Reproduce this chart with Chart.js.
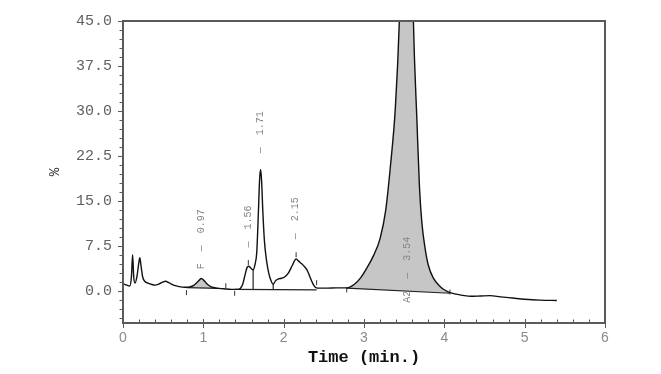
<!DOCTYPE html>
<html>
<head>
<meta charset="utf-8">
<script src="https://cdn.jsdelivr.net/npm/chart.js@4.4.1/dist/chart.umd.min.js"></script>
<style>
  html, body { margin: 0; padding: 0; background: #fff; }
  #wrap { width: 661px; height: 374px; }
</style>
</head>
<body>
<div id="wrap"><canvas id="myChart"></canvas></div>
<script>
// detector trace (time in min, signal in %)
var times = [0.000, 0.040, 0.085, 0.105, 0.120, 0.133, 0.150, 0.175, 0.195, 0.210,
             0.225, 0.245, 0.270, 0.310, 0.360, 0.400, 0.450, 0.500, 0.530, 0.570,
             0.630, 0.700, 0.770, 0.830, 0.880, 0.930, 0.975, 1.010, 1.050, 1.100,
             1.160, 1.250, 1.350, 1.430, 1.460, 1.490, 1.520, 1.545, 1.565, 1.590,
             1.620, 1.645, 1.665, 1.685, 1.700, 1.712, 1.725, 1.740, 1.760, 1.785,
             1.815, 1.845, 1.870, 1.900, 1.935, 1.975, 2.010, 2.060, 2.110, 2.155,
             2.190, 2.225, 2.260, 2.290, 2.325, 2.360, 2.400, 2.450, 2.550, 2.650,
             2.720, 2.790, 2.880, 2.960, 3.040, 3.120, 3.200, 3.270, 3.330, 3.390,
             3.440, 3.490, 3.540, 3.580, 3.615, 3.660, 3.690, 3.720, 3.760, 3.800,
             3.860, 3.950, 4.010, 4.070, 4.150, 4.250, 4.330, 4.450, 4.570, 4.700,
             4.850, 5.000, 5.190, 5.400];
var signal = [1.3, 1.1, 0.9, 2.5, 6.1, 2.5, 1.4, 2.6, 4.6, 5.6,
              4.2, 2.4, 1.7, 1.4, 1.15, 1.05, 1.25, 1.6, 1.7, 1.45,
              1.05, 0.8, 0.7, 0.75, 1.0, 1.6, 2.15, 1.8, 1.2, 0.75,
              0.55, 0.45, 0.35, 0.35, 0.5, 1.2, 2.8, 4.0, 4.2, 3.9,
              3.6, 4.6, 6.5, 13.0, 18.5, 20.3, 18.5, 13.5, 8.5, 5.3,
              3.0, 1.7, 1.2, 1.8, 2.1, 2.2, 2.4, 3.1, 4.4, 5.4,
              5.0, 4.6, 4.1, 3.6, 2.5, 1.4, 0.65, 0.55, 0.55, 0.6,
              0.6, 0.6, 1.2, 2.3, 4.0, 6.0, 8.8, 13.5, 21.0, 30.5,
              45.0, 72.0, 90.0, 72.0, 45.0, 28.0, 17.5, 11.5, 7.2, 4.4,
              2.3, 0.8, 0.2, -0.2, -0.45, -0.7, -0.8, -0.75, -0.7, -0.9,
              -1.1, -1.3, -1.45, -1.5];

// integrated peaks
var peakTimes = [0.97, 1.56, 1.71, 2.15, 3.54];
var peakCodes = ['F', '', '', '', 'A2'];
var peakLabelY = [2.7, 3.3, 19.0, 4.7, -1.9];

// shaded peaks: baseline start / end
var shadeStartT = [0.79, 2.785];
var shadeStartY = [0.65, 0.55];
var shadeEndT = [1.20, 4.07];
var shadeEndY = [0.5, -0.3];

// baseline under the 1.56 - 2.15 group and its drop lines
var groupBaseT = [1.39, 2.41];
var groupBaseY = [0.33, 0.25];
var dropT = [1.62, 1.87];
var dropTopY = [3.6, 1.2];
var dropBottomY = [0.32, 0.28];

// start / end markers of the integration
var markT = [0.79, 1.28, 1.39, 2.41, 2.785, 4.07, 1.56, 2.155];
var markY = [-0.2, 0.95, -0.3, 1.45, 0.25, -0.1, 4.8, 6.1];

var xTicks = [0, 1, 2, 3, 4, 5, 6];
var yTicks = [0, 7.5, 15, 22.5, 30, 37.5, 45];

var monoFont = "'Courier New', 'Liberation Mono', monospace";

function pts(xs, ys) {
  return xs.map(function (x, i) { return { x: x, y: ys[i] }; });
}
var trace = pts(times, signal);

var datasets = [{
  data: trace,
  borderColor: '#111',
  borderWidth: 1.4,
  pointRadius: 0,
  cubicInterpolationMode: 'monotone',
  fill: false
}];

shadeStartT.forEach(function (t0, k) {
  var base = datasets.length;
  datasets.push({
    data: [{ x: t0, y: shadeStartY[k] }, { x: shadeEndT[k], y: shadeEndY[k] }],
    borderColor: '#222',
    borderWidth: 1.2,
    pointRadius: 0,
    fill: false
  });
  datasets.push({
    data: trace.filter(function (p) { return p.x >= t0 && p.x <= shadeEndT[k]; }),
    borderWidth: 0,
    pointRadius: 0,
    cubicInterpolationMode: 'monotone',
    backgroundColor: '#c6c6c6',
    fill: { target: base, above: '#c6c6c6', below: '#c6c6c6' }
  });
});

datasets.push({
  data: pts(groupBaseT, groupBaseY),
  borderColor: '#222',
  borderWidth: 1.2,
  pointRadius: 0,
  fill: false
});

dropT.forEach(function (t, k) {
  datasets.push({
    data: [{ x: t, y: dropTopY[k] }, { x: t, y: dropBottomY[k] }],
    borderColor: '#222',
    borderWidth: 1.2,
    pointRadius: 0,
    fill: false
  });
});

datasets.push({
  type: 'scatter',
  data: pts(markT, markY),
  pointStyle: 'line',
  rotation: 90,
  pointRadius: 2.5,
  borderColor: '#333',
  borderWidth: 1,
  showLine: false
});

// frame, tick marks and rotated peak labels
var decor = {
  id: 'decor',
  afterDatasetsDraw: function (chart) {
    var ctx = chart.ctx, a = chart.chartArea;
    var xs = chart.scales.x, ys = chart.scales.y;
    ctx.save();
    ctx.strokeStyle = '#5a5a5a';
    ctx.lineWidth = 1;
    var v, px, py;
    for (v = 0; v <= 45.001; v += 1.5) {
      py = Math.round(ys.getPixelForValue(v)) + 0.5;
      var major = Math.abs(v / 7.5 - Math.round(v / 7.5)) < 1e-6;
      ctx.beginPath();
      ctx.moveTo(a.left - (major ? 5 : 3.5), py);
      ctx.lineTo(a.left, py);
      ctx.stroke();
    }
    for (v = -1.5; v >= ys.min; v -= 1.5) {
      py = Math.round(ys.getPixelForValue(v)) + 0.5;
      ctx.beginPath();
      ctx.moveTo(a.left - 3.5, py);
      ctx.lineTo(a.left, py);
      ctx.stroke();
    }
    for (v = 0; v <= 6.001; v += 0.2) {
      px = Math.round(xs.getPixelForValue(v)) + 0.5;
      var maj = Math.abs(v - Math.round(v)) < 1e-6;
      ctx.beginPath();
      ctx.moveTo(px, a.bottom - (maj ? 4 : 3.5));
      ctx.lineTo(px, a.bottom + (maj ? 5 : 0));
      ctx.stroke();
    }
    ctx.lineWidth = 2;
    ctx.strokeRect(a.left, a.top, a.right - a.left, a.bottom - a.top);

    ctx.fillStyle = '#858585';
    ctx.font = '10px ' + monoFont;
    ctx.textAlign = 'left';
    ctx.textBaseline = 'middle';
    peakTimes.forEach(function (t, i) {
      var label = peakCodes[i].padStart(2, ' ') + '  \u2014  ' + t.toFixed(2);
      ctx.save();
      ctx.translate(xs.getPixelForValue(t), ys.getPixelForValue(peakLabelY[i]));
      ctx.rotate(-Math.PI / 2);
      ctx.fillText(label, 0, 0);
      ctx.restore();
    });
    ctx.restore();
  }
};

var ctx = document.getElementById('myChart').getContext('2d');
var myChart = new Chart(ctx, {
  type: 'line',
  data: { datasets: datasets },
  options: {
    responsive: true,
    maintainAspectRatio: false,
    animation: false,
    layout: { padding: { top: 21, right: 56, left: 0, bottom: 0 } },
    plugins: {
      legend: { display: false },
      tooltip: { enabled: false }
    },
    scales: {
      x: {
        type: 'linear',
        min: 0,
        max: 6,
        grid: { display: false, drawTicks: false },
        border: { display: false },
        afterBuildTicks: function (s) { s.ticks = xTicks.map(function (v) { return { value: v }; }); },
        afterFit: function (s) { s.height = 51; },
        ticks: {
          color: '#8a8a8a',
          font: { family: "'Liberation Sans', Arial, sans-serif", size: 14 },
          padding: 7,
          maxRotation: 0,
          callback: function (v) { return String(v); }
        },
        title: {
          display: true,
          text: 'Time (min.)',
          color: '#111',
          font: { family: monoFont, size: 17, weight: 'bold' },
          padding: { top: 0, bottom: 6 }
        }
      },
      y: {
        type: 'linear',
        min: -5.25,
        max: 45,
        grid: { display: false, drawTicks: false },
        border: { display: false },
        afterBuildTicks: function (s) { s.ticks = yTicks.map(function (v) { return { value: v }; }); },
        afterFit: function (s) { s.width = 123; },
        ticks: {
          color: '#606060',
          font: { family: monoFont, size: 15 },
          padding: 11,
          callback: function (v) { return Number(v).toFixed(1); }
        },
        title: {
          display: true,
          text: '%',
          color: '#333',
          font: { family: monoFont, size: 14 },
          padding: { top: 47, bottom: 0 }
        }
      }
    }
  },
  plugins: [decor]
});
</script>
</body>
</html>
